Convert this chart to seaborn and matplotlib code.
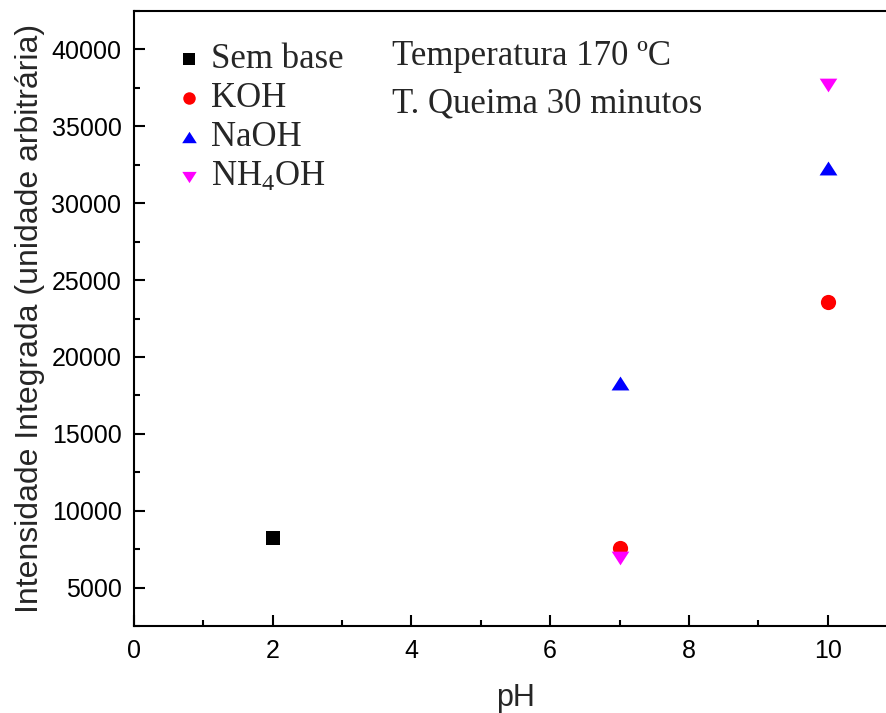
import matplotlib
matplotlib.use("Agg")
import matplotlib.pyplot as plt
import seaborn as sns
import pandas as pd
from matplotlib.ticker import MultipleLocator

# ---- data ----
bases = ["Sem base", "KOH", "KOH", "NaOH", "NaOH", "NH4OH", "NH4OH"]
ph = [2, 7, 10, 7, 10, 7, 10]
intensity = [8200, 7600, 23600, 18300, 32300, 6900, 37700]

series = ["Sem base", "KOH", "NaOH", "NH4OH"]
legend_labels = ["Sem base", "KOH", "NaOH", "NH$_4$OH"]
colors = ["#000000", "#FF0000", "#0000FF", "#FF00FF"]
up_tri = [(-1, -0.78), (1, -0.78), (0, 0.78)]
down_tri = [(-1, 0.78), (1, 0.78), (0, -0.78)]
markers = ["s", "o", up_tri, down_tri]
sizes = [100, 120, 165, 160]

annot = ["Temperatura 170 ºC", "T. Queima 30 minutos"]

df = pd.DataFrame({"base": bases, "pH": ph, "I": intensity})

sns.set_style("ticks")
plt.rcParams["font.family"] = ["Liberation Sans", "DejaVu Sans"]
plt.rcParams["mathtext.fontset"] = "custom"
plt.rcParams["mathtext.rm"] = "Liberation Serif"
plt.rcParams["mathtext.it"] = "Liberation Serif:italic"

fig = plt.figure(figsize=(8.86, 7.13), dpi=100)
ax = fig.add_axes([134 / 886, 87 / 713, 763 / 886, 615 / 713])

for name, lab, col, mk, sz in zip(series, legend_labels, colors, markers, sizes):
    sub = df[df["base"] == name]
    sns.scatterplot(data=sub, x="pH", y="I", ax=ax, color=col, marker=mk,
                    s=sz, linewidth=0, label=lab, legend=True)

ax.set_xlim(0, 11)
ax.set_ylim(2500, 42500)
ax.xaxis.set_major_locator(MultipleLocator(2))
ax.xaxis.set_minor_locator(MultipleLocator(1))
ax.set_yticks(range(5000, 40001, 5000))
ax.yaxis.set_minor_locator(MultipleLocator(2500))

for s in ax.spines.values():
    s.set_linewidth(1.5)
    s.set_color("black")
ax.tick_params(which="both", direction="in", width=1.5, colors="black",
               labelsize=18, pad=9)
ax.tick_params(which="major", length=8)
ax.tick_params(which="minor", length=4.5)
ax.tick_params(axis="y", which="both", right=False)
ax.tick_params(axis="x", which="both", top=False)

ax.set_xlabel("pH", fontsize=22, labelpad=15)
ax.set_ylabel("Intensidade Integrada (unidade arbitrária)", fontsize=23, labelpad=5)

leg = ax.legend(loc="upper left", bbox_to_anchor=(0.049, 0.948), frameon=False,
                prop={"family": "Liberation Serif", "size": 25},
                handletextpad=0.15, labelspacing=0.18, markerscale=0.82,
                handlelength=1.0, borderaxespad=0, borderpad=0)

ax.text((392 - 134) / 763, (626 - 65) / 615, annot[0], transform=ax.transAxes,
        family="Liberation Serif", fontsize=25, va="baseline", ha="left")
ax.text((392 - 134) / 763, (626 - 112) / 615, annot[1], transform=ax.transAxes,
        family="Liberation Serif", fontsize=25, va="baseline", ha="left")

fig.savefig("out.png", dpi=100)
